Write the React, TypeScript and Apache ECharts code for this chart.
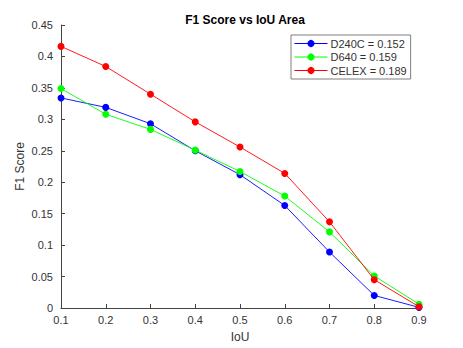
import React, { useEffect, useRef } from "react";
import * as echarts from "echarts";

const iouLabels = ["0.1", "0.2", "0.3", "0.4", "0.5", "0.6", "0.7", "0.8", "0.9"];
const d240c = [0.334, 0.319, 0.293, 0.25, 0.212, 0.163, 0.089, 0.02, 0.001];
const d640 = [0.349, 0.308, 0.284, 0.251, 0.217, 0.178, 0.121, 0.051, 0.006];
const celex = [0.416, 0.384, 0.34, 0.296, 0.256, 0.214, 0.137, 0.045, 0.002];
const seriesNames = ["D240C = 0.152", "D640 = 0.159", "CELEX = 0.189"];
const seriesColors = ["#0000ff", "#00ff00", "#ff0000"];

const FONT = "Liberation Sans, Arial, sans-serif";
const TXT = "#333333";
const AX = "#444444";

export default function App() {
  const ref = useRef<HTMLDivElement>(null);
  useEffect(() => {
    if (!ref.current) return;
    const chart = echarts.init(ref.current, undefined, { renderer: "svg" });
    const data = [d240c, d640, celex];
    chart.setOption({
      animation: false,
      backgroundColor: "#ffffff",
      title: {
        text: "F1 Score vs IoU Area",
        left: 240,
        textAlign: "center",
        top: 9,
        textStyle: { fontFamily: FONT, fontSize: 12, fontWeight: "bold", color: "#000" },
      },
      legend: {
        orient: "vertical",
        left: 291,
        top: 35,
        padding: [3, 4, 3, 3],
        itemGap: 2.5,
        itemWidth: 33,
        itemHeight: 9,
        borderColor: "#7f7f7f",
        borderWidth: 1,
        backgroundColor: "#fff",
        lineStyle: { width: 1 },
        textStyle: { fontFamily: FONT, fontSize: 11, color: TXT, padding: [0, 0, 0, -2] },
        data: seriesNames,
      },
      grid: { left: 61, right: 44, top: 25, bottom: 39, containLabel: false },
      xAxis: {
        type: "category",
        data: iouLabels,
        boundaryGap: false,
        name: "IoU",
        nameLocation: "middle",
        nameGap: 23,
        nameMoveOverlap: false,
        nameTextStyle: { fontFamily: FONT, fontSize: 12, color: TXT },
        axisLine: { lineStyle: { color: AX, width: 1 } },
        axisTick: { inside: true, length: 4, lineStyle: { color: AX }, alignWithLabel: true },
        axisLabel: { fontFamily: FONT, fontSize: 11, color: TXT, margin: 6 },
        splitLine: { show: false },
      },
      yAxis: {
        type: "value",
        min: 0,
        max: 0.45,
        interval: 0.05,
        name: "F1 Score",
        nameLocation: "middle",
        nameGap: 35,
        nameMoveOverlap: false,
        nameTextStyle: { fontFamily: FONT, fontSize: 12, color: TXT },
        axisLine: { show: true, lineStyle: { color: AX, width: 1 } },
        axisTick: { show: true, inside: true, length: 4, lineStyle: { color: AX } },
        axisLabel: {
          fontFamily: FONT,
          fontSize: 11,
          color: TXT,
          margin: 8,
          formatter: (v: number) => String(+v.toFixed(2)),
        },
        splitLine: { show: false },
      },
      series: data.map((d, i) => ({
        name: seriesNames[i],
        type: "line",
        data: d,
        symbol: "circle",
        symbolSize: 7,
        showSymbol: true,
        color: seriesColors[i],
        lineStyle: { color: seriesColors[i], width: 0.9 },
        itemStyle: { color: seriesColors[i] },
        z: 2 + i,
      })),
    });
    return () => chart.dispose();
  }, []);
  return <div ref={ref} style={{ width: 463, height: 348, position: "absolute", left: 0, top: 0 }} />;
}
